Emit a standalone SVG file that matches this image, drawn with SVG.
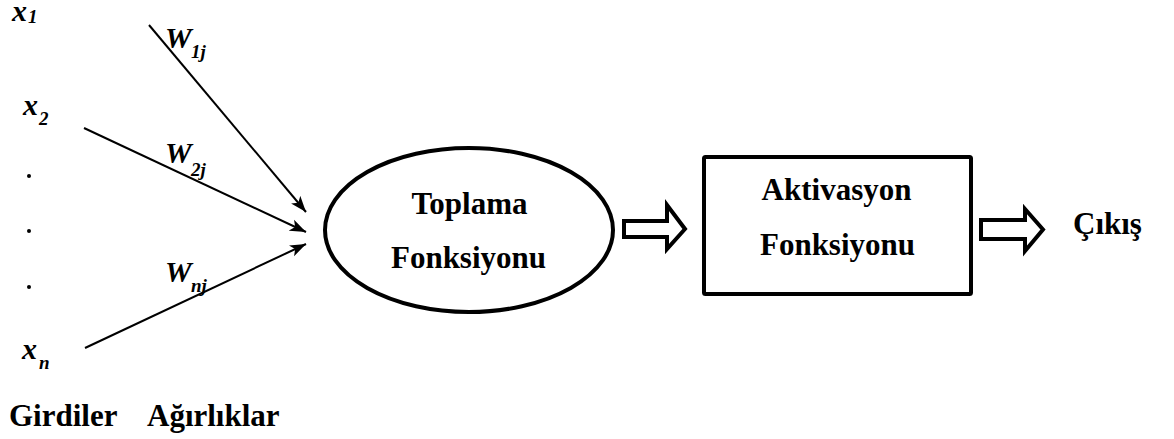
<svg xmlns="http://www.w3.org/2000/svg" width="1174" height="439" viewBox="0 0 1174 439">
  <style>
    .lbl { font-family: "Liberation Serif", serif; font-weight: bold; font-size: 31px; fill: #000; }
    .var { font-family: "Liberation Serif", serif; font-weight: bold; font-style: italic; font-size: 30px; fill: #000; }
    .sub { font-family: "Liberation Serif", serif; font-weight: bold; font-style: italic; font-size: 19px; fill: #000; }
    .wire { stroke: #000; stroke-width: 2; fill: none; }
    .shape { stroke: #000; stroke-width: 4; fill: #fff; }
  </style>
  <defs>
    <marker id="head" markerUnits="userSpaceOnUse" markerWidth="18" markerHeight="14" refX="16" refY="7" orient="auto">
      <path d="M0,1 L16,7 L0,13 L4,7 z" fill="#000"/>
    </marker>
  </defs>

  <rect width="1174" height="439" fill="#fff"/>

  <!-- inputs -->
  <g id="inputs">
    <text class="var" x="12" y="21">x</text><text class="sub" x="28" y="23" font-weight="normal">1</text>
    <text class="var" x="23" y="115">x</text><text class="sub" x="39" y="125">2</text>
    <circle cx="29" cy="176" r="2"/>
    <circle cx="29" cy="231" r="2"/>
    <circle cx="29" cy="287" r="2"/>
    <text class="var" x="22" y="359">x</text><text class="sub" x="39" y="369">n</text>
  </g>

  <!-- weights -->
  <g id="weights">
    <text class="var" x="165" y="48">W</text><text class="sub" x="191" y="58">1j</text>
    <text class="var" x="165" y="163">W</text><text class="sub" x="191" y="176">2j</text>
    <text class="var" x="165" y="282">W</text><text class="sub" x="191" y="292">nj</text>
  </g>

  <!-- connectors -->
  <g id="connectors">
    <line class="wire" x1="149" y1="25" x2="306" y2="212" marker-end="url(#head)"/>
    <line class="wire" x1="84" y1="128" x2="306" y2="232" marker-end="url(#head)"/>
    <line class="wire" x1="85" y1="348" x2="306" y2="244" marker-end="url(#head)"/>
    <polygon class="shape" points="624,221 667,221 667,205 685,229 667,249 667,237 624,237"/>
    <polygon class="shape" points="981,220 1025,220 1025,209 1043,229.5 1025,251 1025,239 981,239"/>
  </g>

  <!-- summation node -->
  <g id="toplama">
    <ellipse class="shape" cx="469" cy="230" rx="144" ry="82"/>
    <text class="lbl" x="469.5" y="214" text-anchor="middle">Toplama</text>
    <text class="lbl" x="468.5" y="268" text-anchor="middle">Fonksiyonu</text>
  </g>

  <!-- activation node -->
  <g id="aktivasyon">
    <rect class="shape" x="704" y="157" width="267" height="137" rx="1.5"/>
    <text class="lbl" x="836.5" y="200" text-anchor="middle">Aktivasyon</text>
    <text class="lbl" x="837.5" y="255" text-anchor="middle">Fonksiyonu</text>
  </g>

  <!-- output -->
  <g id="cikis">
    <text class="lbl" x="1073" y="234">Çıkış</text>
  </g>

  <!-- column captions -->
  <g id="captions">
    <text class="lbl" x="9" y="426">Girdiler</text>
    <text class="lbl" x="147" y="426">Ağırlıklar</text>
  </g>
</svg>
